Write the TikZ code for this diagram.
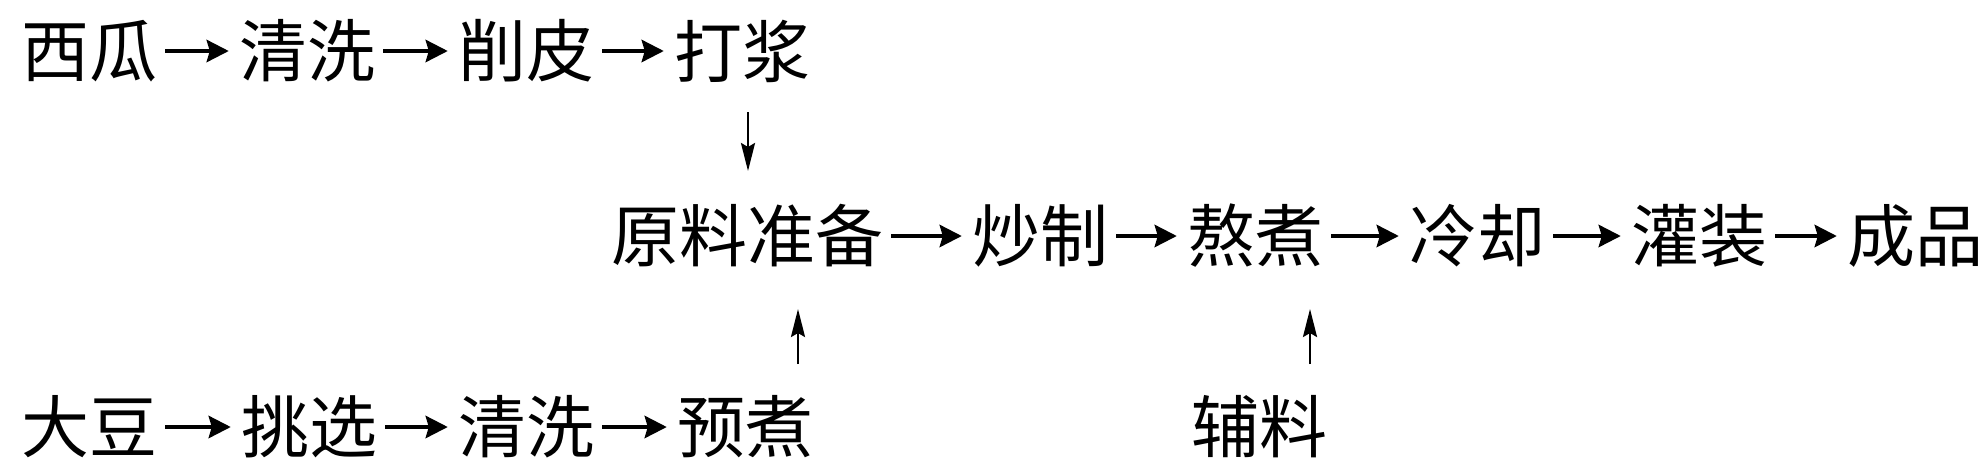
\documentclass[tikz,border=0pt]{standalone}
\usepackage{fontspec}
\newfontfamily\cjk{Noto Sans CJK SC}
\usetikzlibrary{arrows.meta}
\begin{document}
\begin{tikzpicture}[x=1pt,y=-1pt,
  lbl/.style={inner sep=0pt, font=\cjk\fontsize{68}{72}\selectfont},
  harrow/.style={line width=4.5pt, -{Stealth[length=22pt,width=22pt,inset=3pt]}, shorten <=8pt, shorten >=10pt},
  varrow/.style={line width=2.5pt, -{Stealth[length=28pt,width=14pt,inset=4pt]}}]
\useasboundingbox (0,0) rectangle (1988,475);
% row 1
\node[lbl] (xg)  at (89,51)  {西瓜};
\node[lbl] (qx1) at (307,51) {清洗};
\node[lbl] (xp)  at (526,51) {削皮};
\node[lbl] (dj)  at (742,51) {打浆};
% row 2
\node[lbl] (ylzb) at (747,236)  {原料准备};
\node[lbl] (cz)   at (1040,236) {炒制};
\node[lbl] (az)   at (1255,236) {熬煮};
\node[lbl] (lq)   at (1477,236) {冷却};
\node[lbl] (gz)   at (1699,236) {灌装};
\node[lbl] (cp)   at (1915,236) {成品};
% row 3
\node[lbl] (dd)  at (89,427)  {大豆};
\node[lbl] (tx)  at (309,427) {挑选};
\node[lbl] (qx2) at (526,427) {清洗};
\node[lbl] (yz)  at (745,427) {预煮};
\node[lbl] (fl)  at (1259,427) {辅料};
% horizontal arrows
\draw[harrow] (xg) -- (qx1);
\draw[harrow] (qx1) -- (xp);
\draw[harrow] (xp) -- (dj);
\draw[harrow] (ylzb) -- (cz);
\draw[harrow] (cz) -- (az);
\draw[harrow] (az) -- (lq);
\draw[harrow] (lq) -- (gz);
\draw[harrow] (gz) -- (cp);
\draw[harrow] (dd) -- (tx);
\draw[harrow] (tx) -- (qx2);
\draw[harrow] (qx2) -- (yz);
% vertical arrows
\coordinate (d1s) at (748,112);
\coordinate (d1e) at (748,171);
\draw[varrow] (d1s) -- (d1e);
\coordinate (u1s) at (798,364);
\coordinate (u1e) at (798,309);
\draw[varrow] (u1s) -- (u1e);
\coordinate (u2s) at (1310,364);
\coordinate (u2e) at (1310,309);
\draw[varrow] (u2s) -- (u2e);
\end{tikzpicture}
\end{document}
